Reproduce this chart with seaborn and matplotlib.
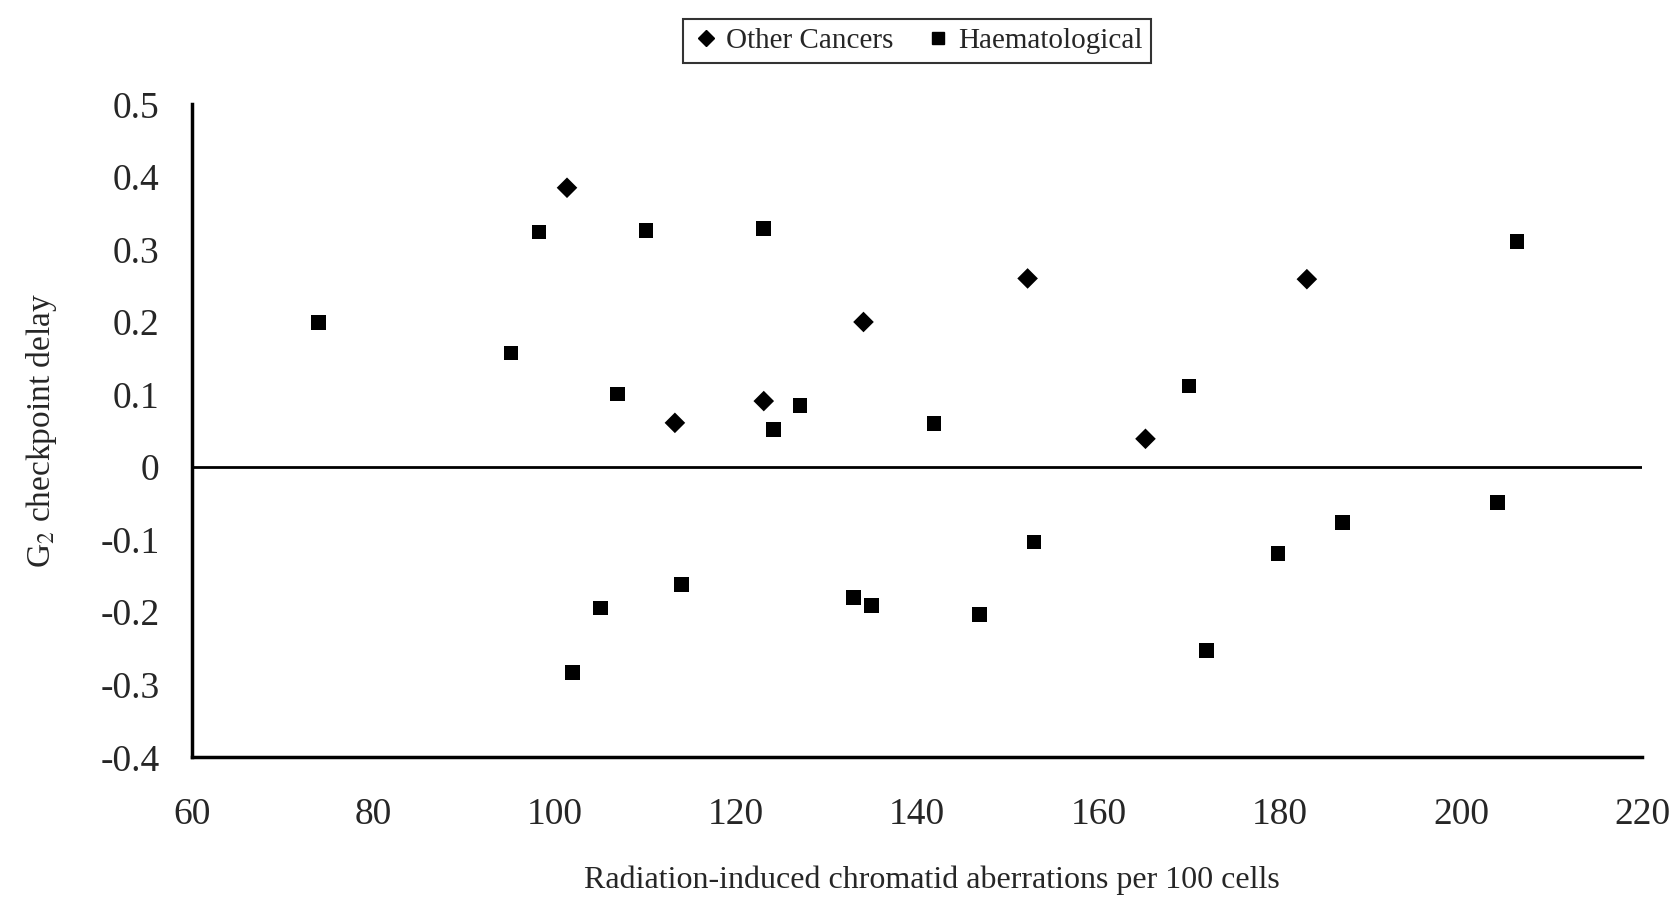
import numpy as np
import pandas as pd
import matplotlib
matplotlib.use("Agg")
import matplotlib.pyplot as plt
import seaborn as sns

# values
other_x = [101.4, 113.3, 123.1, 134.1, 152.2, 165.2, 183.0]
other_y = [0.385, 0.061, 0.091, 0.200, 0.260, 0.039, 0.259]

haem_x = [74.0, 95.2, 98.3, 110.1, 123.1, 107.0, 124.2, 127.1, 141.9, 170.0,
          206.2, 204.0, 186.9, 179.8, 152.9, 114.0, 105.1, 102.0, 133.0, 135.0,
          146.9, 171.9]
haem_y = [0.199, 0.157, 0.324, 0.326, 0.329, 0.101, 0.052, 0.085, 0.060, 0.112,
          0.311, -0.049, -0.076, -0.119, -0.103, -0.162, -0.194, -0.283, -0.180, -0.191,
          -0.203, -0.253]

groups = ["Other Cancers", "Haematological"]
x_ticks = [60, 80, 100, 120, 140, 160, 180, 200, 220]
y_ticks = [0.5, 0.4, 0.3, 0.2, 0.1, 0, -0.1, -0.2, -0.3, -0.4]

df = pd.DataFrame({
    "x": other_x + haem_x,
    "y": other_y + haem_y,
    "group": [groups[0]] * len(other_x) + [groups[1]] * len(haem_x),
})

sns.set_style("white")
plt.rcParams["font.family"] = ["Liberation Serif", "DejaVu Serif"]
plt.rcParams["mathtext.fontset"] = "stix"

fig = plt.figure(figsize=(16.81, 9.07), dpi=100)
ax = fig.add_axes([0.114, 0.165, 0.863, 0.72])

sns.scatterplot(data=df, x="x", y="y", hue="group", style="group",
                markers={groups[0]: "D", groups[1]: "s"},
                palette={groups[0]: "black", groups[1]: "black"},
                s=110, linewidth=0, ax=ax, legend=False)

# zero reference line
ax.axhline(0, color="black", linewidth=2)

ax.set_xlim(60, 220)
ax.set_ylim(-0.4, 0.5)
ax.set_xticks(x_ticks)
ax.set_yticks(y_ticks)
ax.set_yticklabels([("%g" % v) for v in y_ticks])
ax.tick_params(axis="both", direction="out", length=9, width=2,
               labelsize=27, color="black")
ax.tick_params(axis="y", pad=14)
ax.tick_params(axis="x", pad=20)

for side in ["top", "right"]:
    ax.spines[side].set_visible(False)
for side in ["left", "bottom"]:
    ax.spines[side].set_color("black")
    ax.spines[side].set_linewidth(2.5)

ax.set_xlabel("Radiation-induced chromatid aberrations per 100 cells",
              fontsize=23, labelpad=24)
ax.xaxis.label.set_x(0.51)
ax.set_ylabel(r"G$_2$ checkpoint delay", fontsize=24, labelpad=30)

handles = [
    plt.Line2D([], [], marker="D", color="black", linestyle="none", markersize=8),
    plt.Line2D([], [], marker="s", color="black", linestyle="none", markersize=8),
]
leg = ax.legend(handles, groups, loc="lower center", bbox_to_anchor=(0.5, 1.063),
                borderaxespad=0, ncol=2, frameon=True, fontsize=21, handletextpad=0.2,
                columnspacing=1.0, borderpad=0.3, handlelength=1.0, fancybox=False)
leg.get_frame().set_edgecolor("black")
leg.get_frame().set_linewidth(1.5)

fig.savefig("out.png", dpi=100, facecolor="white")
